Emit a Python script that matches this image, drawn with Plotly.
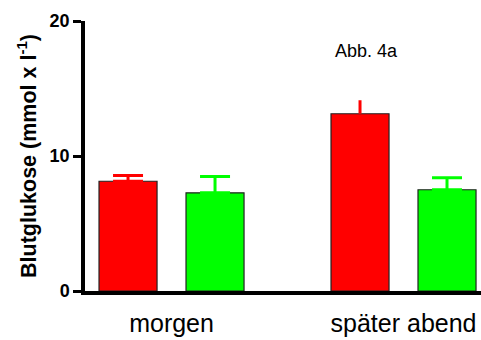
import plotly.graph_objects as go

categories = ["morgen", "später abend"]
red_values = [8.13, 13.13]
red_errors = [0.43, 1.0]
green_values = [7.27, 7.50]
green_errors = [1.21, 0.89]
y_ticks = [0, 10, 20]

RED = "#FF0000"
GREEN = "#00FF00"
FONT = "Liberation Sans, Arial, sans-serif"

fig = go.Figure()

# red bars: separate traces so the cap width can differ per bar
for i in range(len(categories)):
    fig.add_trace(go.Bar(
        x=[categories[i]], y=[red_values[i]], offsetgroup="red",
        marker=dict(color=RED, line=dict(color="#222222", width=1.2)),
        error_y=dict(type="data", array=[red_errors[i]], symmetric=False,
                     arrayminus=[0], color=RED, thickness=3,
                     width=15 if i == 0 else 0),
        showlegend=False, hoverinfo="skip",
    ))
fig.add_trace(go.Bar(
    x=categories, y=green_values, offsetgroup="green",
    marker=dict(color=GREEN, line=dict(color="#222222", width=1.2)),
    error_y=dict(type="data", array=green_errors, symmetric=False,
                 arrayminus=[0, 0], color=GREEN, thickness=3, width=15),
    showlegend=False, hoverinfo="skip",
))

fig.update_layout(
    width=481, height=340,
    margin=dict(l=85, r=0, t=21, b=49, autoexpand=False),
    paper_bgcolor="white", plot_bgcolor="white",
    barmode="group", bargap=0.25, bargroupgap=0.333,
    font=dict(family=FONT, color="black"),
    annotations=[dict(text="Abb. 4a", showarrow=False,
                      xref="paper", yref="paper",
                      x=(366 - 85) / (481 - 85), y=(291 - 51) / (291 - 21),
                      xanchor="center", yanchor="middle",
                      font=dict(size=18, family=FONT))],
)

fig.update_xaxes(
    type="category", range=[-0.373, 1.334],
    showline=True, linecolor="black", linewidth=3.5,
    ticks="", showgrid=False, zeroline=False, automargin=False,
    tickfont=dict(size=25, family=FONT), ticklabelstandoff=7,
)
fig.update_yaxes(
    range=[0, 20], tickvals=y_ticks, ticktext=["<b>%d</b>" % v for v in y_ticks],
    showline=True, linecolor="black", linewidth=3.5,
    ticks="outside", ticklen=8, tickwidth=3, tickcolor="black",
    showgrid=False, zeroline=False, automargin=False,
    tickfont=dict(size=18, family=FONT),
    title=dict(text="<b>Blutglukose (mmol x l<sup>-1</sup>)</b>",
               font=dict(size=21.5, family=FONT), standoff=8),
)

fig.write_html("out.html", config={"displayModeBar": False},
               post_script="document.body.style.margin='0';")
